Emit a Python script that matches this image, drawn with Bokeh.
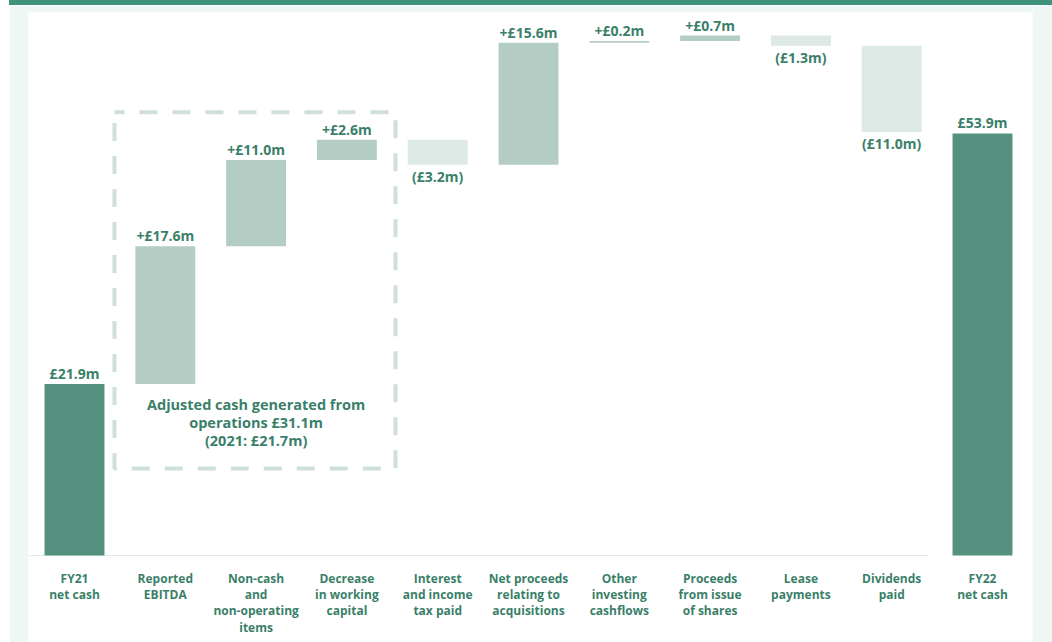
from bokeh.plotting import figure
from bokeh.models import ColumnDataSource, Div, Spacer, Range1d
from bokeh.layouts import row, column
from bokeh.core.properties import value
from bokeh.embed import file_html
from bokeh.resources import INLINE

# ---------------- data ----------------
categories = [
    "FY21\nnet cash",
    "Reported\nEBITDA",
    "Non-cash\nand\nnon-operating\nitems",
    "Decrease\nin working\ncapital",
    "Interest\nand income\ntax paid",
    "Net proceeds\nrelating to\nacquisitions",
    "Other\ninvesting\ncashflows",
    "Proceeds\nfrom issue\nof shares",
    "Lease\npayments",
    "Dividends\npaid",
    "FY22\nnet cash",
]
opening = 21.9
changes = [17.6, 11.0, 2.6, -3.2, 15.6, 0.2, 0.7, -1.3, -11.0]
closing = 53.9
value_labels = ["£21.9m", "+£17.6m", "+£11.0m", "+£2.6m", "(£3.2m)", "+£15.6m",
                "+£0.2m", "+£0.7m", "(£1.3m)", "(£11.0m)", "£53.9m"]
box_note = "Adjusted cash generated from\noperations £31.1m\n(2021: £21.7m)"

# ---------------- styling ----------------
FONT = "Open Sans"
TEXT = "#3a7f69"
DARK = "#54917e"
UP = "#b3cdc5"
DOWN = "#dde9e5"
DASH = "#cfe0da"
MINT = "#eef7f4"
BAND = "#40937a"

# waterfall geometry
xs, bottoms, tops, colors = [], [], [], []
xs.append(0); bottoms.append(0); tops.append(opening); colors.append(DARK)
level = opening
for i, c in enumerate(changes):
    xs.append(i + 1)
    new = level + c
    bottoms.append(min(level, new)); tops.append(max(level, new))
    colors.append(UP if c >= 0 else DOWN)
    level = new
xs.append(len(changes) + 1); bottoms.append(0); tops.append(closing); colors.append(DARK)

bars = ColumnDataSource(dict(x=xs, bottom=bottoms, top=tops, color=colors))

above_x, above_y, above_t, below_x, below_y, below_t = [], [], [], [], [], []
for i, lab in enumerate(value_labels):
    if 0 < i < len(value_labels) - 1 and changes[i - 1] < 0:
        below_x.append(xs[i]); below_y.append(bottoms[i]); below_t.append(lab)
    else:
        above_x.append(xs[i]); above_y.append(tops[i]); above_t.append(lab)

# pixel geometry of the chart (page coordinates)
X0, DX = 74.0, 90.8          # centre of first bar, spacing
BASE, SCALE = 555.0, 7.83    # baseline y, px per £m
FL, FR, FT, FB = 28, 1032, 12, 642

p = figure(width=1043, height=637, output_backend="svg", toolbar_location=None,
           x_axis_type=None, y_axis_type=None,
           x_range=Range1d((FL - X0) / DX, (FR - X0) / DX),
           y_range=Range1d(-(FB - BASE) / SCALE, (BASE - FT) / SCALE),
           min_border_left=FL - 9, min_border_right=1052 - FR, min_border_top=FT - 5,
           min_border_bottom=0)
p.grid.visible = False
p.outline_line_color = None
p.border_fill_color = MINT
p.background_fill_color = "white"

# baseline
p.segment(x0=[-0.5], y0=[0], x1=[len(xs) - 1 - 0.6], y1=[0], line_color="#e3ebe8", line_width=1.2)

# dashed box around operating items
p.quad(left=[0.44], right=[3.535], top=[56.6], bottom=[11.1], fill_color=None,
       line_color=DASH, line_width=4, line_dash="18 15", line_dash_offset=8)

p.vbar(x="x", width=0.66, bottom="bottom", top="top", fill_color="color",
       line_color=None, source=bars)

p.text(x=above_x, y=above_y, text=above_t, text_align="center", text_baseline="bottom",
       y_offset=-1, text_font=value(FONT), text_font_style="bold", text_font_size="14px",
       text_color=TEXT)
p.text(x=below_x, y=below_y, text=below_t, text_align="center", text_baseline="top",
       y_offset=2, text_font=value(FONT), text_font_style="bold", text_font_size="14px",
       text_color=TEXT)

# category labels
p.text(x=xs, y=[0] * len(xs), text=categories, text_align="center", text_baseline="top",
       y_offset=14, text_font=value(FONT), text_font_style="bold", text_font_size="12px",
       text_line_height=0.97, text_color=TEXT)

# note inside the box
p.text(x=[2.0], y=[17.0], text=[box_note], text_align="center", text_baseline="middle",
       text_font=value(FONT), text_font_style="bold", text_font_size="14.5px",
       text_line_height=0.94, text_color=TEXT)

band = Div(width=1043, height=5, styles={"background-color": BAND}, margin=0)
layout = row(Spacer(width=9, height=642), column(band, p, spacing=0), spacing=0)

open("out.html", "w").write(file_html(layout, INLINE))
